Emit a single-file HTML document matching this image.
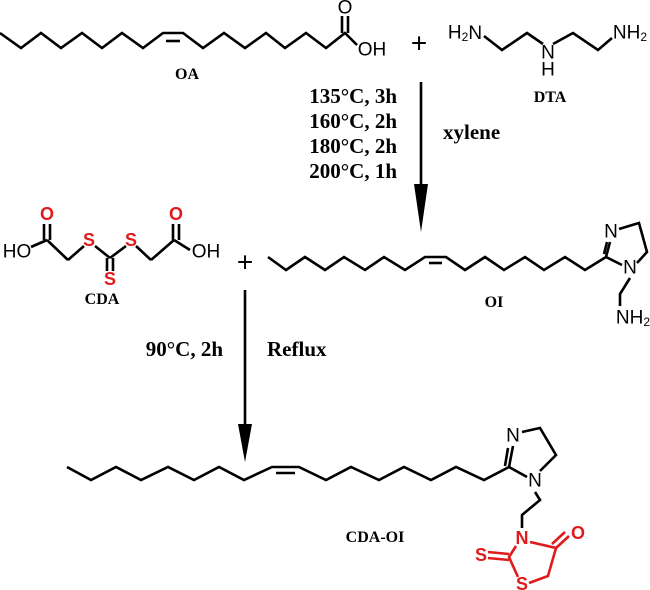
<!DOCTYPE html>
<html><head><meta charset="utf-8"><style>
html,body{margin:0;padding:0;background:#fff}
svg{display:block}
.b{fill:none;stroke:#000;stroke-width:2.6;stroke-linejoin:miter}
.r{fill:none;stroke:#e01b1b;stroke-width:2.6}
.at{font-family:"Liberation Sans",sans-serif;font-size:19px;fill:#000;text-anchor:middle;dominant-baseline:central}
.ra{font-family:"Liberation Sans",sans-serif;font-size:18px;font-weight:bold;fill:#e01b1b;text-anchor:middle;dominant-baseline:central}
.lb{font-family:"Liberation Serif",serif;font-size:16px;font-weight:bold;fill:#000;text-anchor:middle}
.cd{font-family:"Liberation Serif",serif;font-size:21px;font-weight:bold;fill:#000}
</style></head><body>
<svg width="650" height="590" viewBox="0 0 650 590">
<!-- OA -->
<polyline class="b" points="0,33 21,48 41,33 61,48 82,33 102,48 122,33 143,48 163,33 183,33 203,48 224,33 245,48 266,33 285,48 306,33 326,48 345,33 357,45"/>
<line class="b" x1="166" y1="41" x2="180" y2="41"/>
<line class="b" x1="342" y1="33" x2="342" y2="16"/>
<line class="b" x1="348" y1="33" x2="348" y2="16"/>
<text class="at" x="345" y="8">O</text>
<text class="at" x="372" y="50">OH</text>
<text class="lb" x="187" y="79">OA</text>
<text class="at" x="419" y="43" style="font-size:28px">+</text>
<!-- DTA -->
<text class="at" x="465" y="33">H<tspan font-size="12" dy="4">2</tspan><tspan dy="-4">N</tspan></text>
<polyline class="b" points="484,36 502,50 527,33 543,44"/>
<polyline class="b" points="553,44 573,33 598,50 612,38"/>
<text class="at" x="548" y="53">N</text>
<text class="at" x="548" y="70">H</text>
<text class="at" x="630" y="33">NH<tspan font-size="12" dy="4">2</tspan></text>
<text class="lb" x="550" y="102">DTA</text>
<!-- conditions 1 -->
<text class="cd" x="397" y="103" text-anchor="end">135°C, 3h</text>
<text class="cd" x="397" y="128" text-anchor="end">160°C, 2h</text>
<text class="cd" x="397" y="153" text-anchor="end">180°C, 2h</text>
<text class="cd" x="397" y="178" text-anchor="end">200°C, 1h</text>
<text class="cd" x="443" y="139">xylene</text>
<line class="b" x1="421" y1="82" x2="421" y2="195"/>
<polygon points="414,184 428,184 421,232" fill="#000"/>
<!-- CDA -->
<text class="at" x="17" y="252">HO</text>
<polyline class="b" points="31,247 47,240"/>
<line class="b" x1="47" y1="240" x2="68" y2="260"/>
<line class="b" x1="44" y1="240" x2="44" y2="224"/>
<line class="b" x1="50" y1="240" x2="50" y2="224"/>
<text class="ra" x="47" y="214">O</text>
<line class="b" x1="68" y1="260" x2="84" y2="246"/>
<text class="ra" x="89" y="240">S</text>
<line class="b" x1="95" y1="246" x2="110" y2="258"/>
<line class="b" x1="107" y1="258" x2="107" y2="271"/>
<line class="b" x1="113" y1="258" x2="113" y2="271"/>
<text class="ra" x="110" y="279">S</text>
<line class="b" x1="110" y1="258" x2="126" y2="246"/>
<text class="ra" x="131" y="240">S</text>
<line class="b" x1="136" y1="246" x2="151" y2="260"/>
<line class="b" x1="151" y1="260" x2="174" y2="240"/>
<line class="b" x1="174" y1="240" x2="190" y2="250"/>
<line class="b" x1="173" y1="240" x2="173" y2="224"/>
<line class="b" x1="179" y1="240" x2="179" y2="224"/>
<text class="ra" x="176" y="214">O</text>
<text class="at" x="206" y="252">OH</text>
<text class="lb" x="102" y="304">CDA</text>
<text class="at" x="245" y="262" style="font-size:28px">+</text>
<!-- OI -->
<polyline class="b" points="268,257 286,270 305,257 325,270 344,257 365,270 384,257 405,270 425,257 446,257 465,270 485,257 504,270 525,257 544,270 565,257 585,270 606,257 610,242"/>
<line class="b" x1="429" y1="263" x2="442" y2="263"/>
<line class="b" x1="604" y1="254" x2="607" y2="242"/>
<text class="at" x="611" y="232">N</text>
<polyline class="b" points="619,229 639,223 647,252 637,263"/>
<text class="at" x="630" y="268">N</text>
<line class="b" x1="606" y1="257" x2="622" y2="265"/>
<polyline class="b" points="630,278 620,294 620,306"/>
<text class="at" x="633" y="318">NH<tspan font-size="12" dy="4">2</tspan></text>
<text class="lb" x="494" y="307">OI</text>
<!-- conditions 2 -->
<text class="cd" x="223" y="356" text-anchor="end">90°C, 2h</text>
<text class="cd" x="267" y="356">Reflux</text>
<line class="b" x1="245" y1="290" x2="245" y2="430"/>
<polygon points="238,424 252,424 245,462" fill="#000"/>
<!-- CDA-OI -->
<polyline class="b" points="67,467 91,480 116,467 141,480 168,467 194,480 219,467 244,480 272,467 299,467 326,480 351,467 379,480 404,467 431,480 456,467 484,480 509,467 513,446"/>
<line class="b" x1="276" y1="473" x2="295" y2="473"/>
<line class="b" x1="505" y1="466" x2="508" y2="448"/>
<text class="at" x="513" y="436">N</text>
<polyline class="b" points="522,432 540,428 556,455 540,471"/>
<text class="at" x="535" y="481">N</text>
<line class="b" x1="509" y1="467" x2="527" y2="477"/>
<polyline class="b" points="535,492 540,500 522,515 522,528"/>
<text class="ra" x="522" y="538">N</text>
<polyline class="r" points="530,542 556,548 548,576 529,583"/>
<line class="r" x1="556" y1="548" x2="569" y2="536"/>
<line class="r" x1="552" y1="544" x2="565" y2="532"/>
<text class="ra" x="578" y="533">O</text>
<text class="ra" x="522" y="584">S</text>
<polyline class="r" points="518,577 509,557 516,546"/>
<line class="r" x1="509" y1="554" x2="488" y2="552"/>
<line class="r" x1="509" y1="560" x2="488" y2="558"/>
<text class="ra" x="481" y="555">S</text>
<text class="lb" x="375" y="542">CDA-OI</text>
</svg>
</body></html>
